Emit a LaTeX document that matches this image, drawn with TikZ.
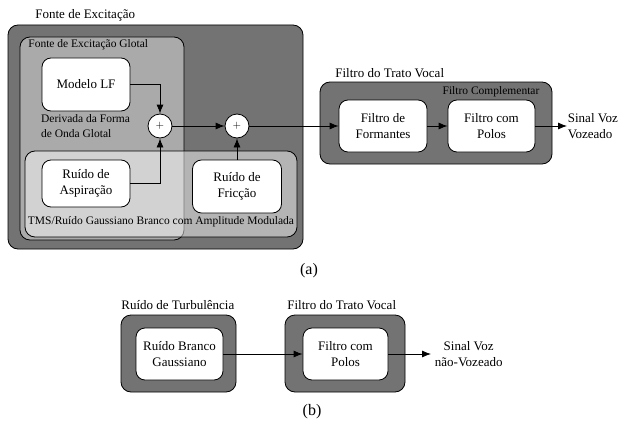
\documentclass[tikz,border=0pt]{standalone}
\usepackage{fontspec}
\setmainfont{Liberation Serif}
\usetikzlibrary{arrows.meta,positioning}
\definecolor{boxDark}{RGB}{115,115,115}
\definecolor{boxGlot}{RGB}{170,170,170}

\begin{document}
\begin{tikzpicture}[x=1pt, y=-1pt, line width=0.8pt,
  font=\fontsize{13}{15.5}\selectfont,
  >={Latex[length=9pt,width=7pt]},
  blockbox/.style={draw, fill=white, rounded corners=9pt, align=center, inner sep=0pt},
  groupbox/.style={draw, rounded corners=10pt, inner sep=0pt},
  sumnode/.style={draw, circle, fill=white, minimum size=24pt, inner sep=0pt,
    font=\fontsize{11}{13}\selectfont},
  grouplabel/.style={anchor=west, inner sep=0pt},
  smalllabel/.style={font=\fontsize{11.5}{15}\selectfont, inner sep=0pt}]
  \useasboundingbox (0,0) rectangle (621,428);

  % (a) excitation source: outer, glottal and noise groups
  \node[groupbox, fill=boxDark, minimum width=295pt, minimum height=224pt] (exc) at (155.5,137) {};
  \node[grouplabel] (excLbl) at (35,15) {Fonte de Excitação};
  \node[groupbox, fill=boxGlot, minimum width=164pt, minimum height=203pt] (glot) at (102,138.5) {};
  \node[grouplabel, smalllabel] (glotLbl) at (28,45) {Fonte de Excitação Glotal};
  \node[groupbox, fill=white, fill opacity=0.47, minimum width=272pt, minimum height=86pt] (tms) at (161,194) {};
  \node[smalllabel] (tmsLbl) at (161,222) {TMS/Ruído Gaussiano Branco com Amplitude Modulada};

  % blocks and summing points
  \node[blockbox, minimum width=88pt, minimum height=53pt] (lf) at (86,84.5) {Modelo LF};
  \node[smalllabel, align=left] (lfLbl) at (85.5,126) {Derivada da Forma\\de Onda Glotal};
  \node[blockbox, minimum width=88pt, minimum height=47pt] (asp) at (86,183.5) {Ruído de\\Aspiração};
  \node[blockbox, minimum width=89pt, minimum height=53pt] (fric) at (237,186.5) {Ruído de\\Fricção};
  \node[sumnode] (sumA) at (160,126) {$+$};
  \node[sumnode] (sumB) at (237,126) {$+$};

  % vocal tract filter
  \node[groupbox, fill=boxDark, minimum width=232pt, minimum height=82pt] (tract) at (436,123) {};
  \node[grouplabel] (tractLbl) at (335,73) {Filtro do Trato Vocal};
  \node[smalllabel] (compLbl) at (491,92) {Filtro Complementar};
  \node[blockbox, minimum width=88pt, minimum height=52pt] (form) at (383,126) {Filtro de\\Formantes};
  \node[blockbox, minimum width=87pt, minimum height=52pt] (polA) at (491.5,126) {Filtro com\\Polos};
  \coordinate (outA) at (567,126);
  \node[anchor=west, align=left, inner sep=0pt] (outALbl) at (567.5,126) {Sinal Voz\\Vozeado};

  % connections (a)
  \draw[->] (lf.east) -| (sumA);
  \draw[->] (asp.east) -| (sumA);
  \draw[->] (sumA) -- (sumB);
  \draw[->] (fric) -- (sumB);
  \draw[->] (sumB) -- (form);
  \draw[->] (form) -- (polA);
  \draw[->] (polA) -- (outA);

  \node[font=\fontsize{16}{18}\selectfont] (capA) at (309,271) {(a)};

  % (b) unvoiced branch
  \node[grouplabel] (turbLbl) at (121,305) {Ruído de Turbulência};
  \node[groupbox, fill=boxDark, minimum width=115pt, minimum height=77pt] (turb) at (178.5,353.5) {};
  \node[blockbox, minimum width=87pt, minimum height=52pt] (gauss) at (179.5,354) {Ruído Branco\\Gaussiano};
  \node[grouplabel] (tractBLbl) at (287,305) {Filtro do Trato Vocal};
  \node[groupbox, fill=boxDark, minimum width=120pt, minimum height=77pt] (tractB) at (345,353.5) {};
  \node[blockbox, minimum width=85pt, minimum height=52pt] (polB) at (345.5,354) {Filtro com\\Polos};
  \coordinate (outB) at (431,354);
  \node[anchor=west, align=center, inner sep=0pt] (outBLbl) at (434.5,354) {Sinal Voz\\não-Vozeado};

  \draw[->] (gauss) -- (polB);
  \draw[->] (polB) -- (outB);

  \node[font=\fontsize{16}{18}\selectfont] (capB) at (312,412) {(b)};
\end{tikzpicture}
\end{document}
